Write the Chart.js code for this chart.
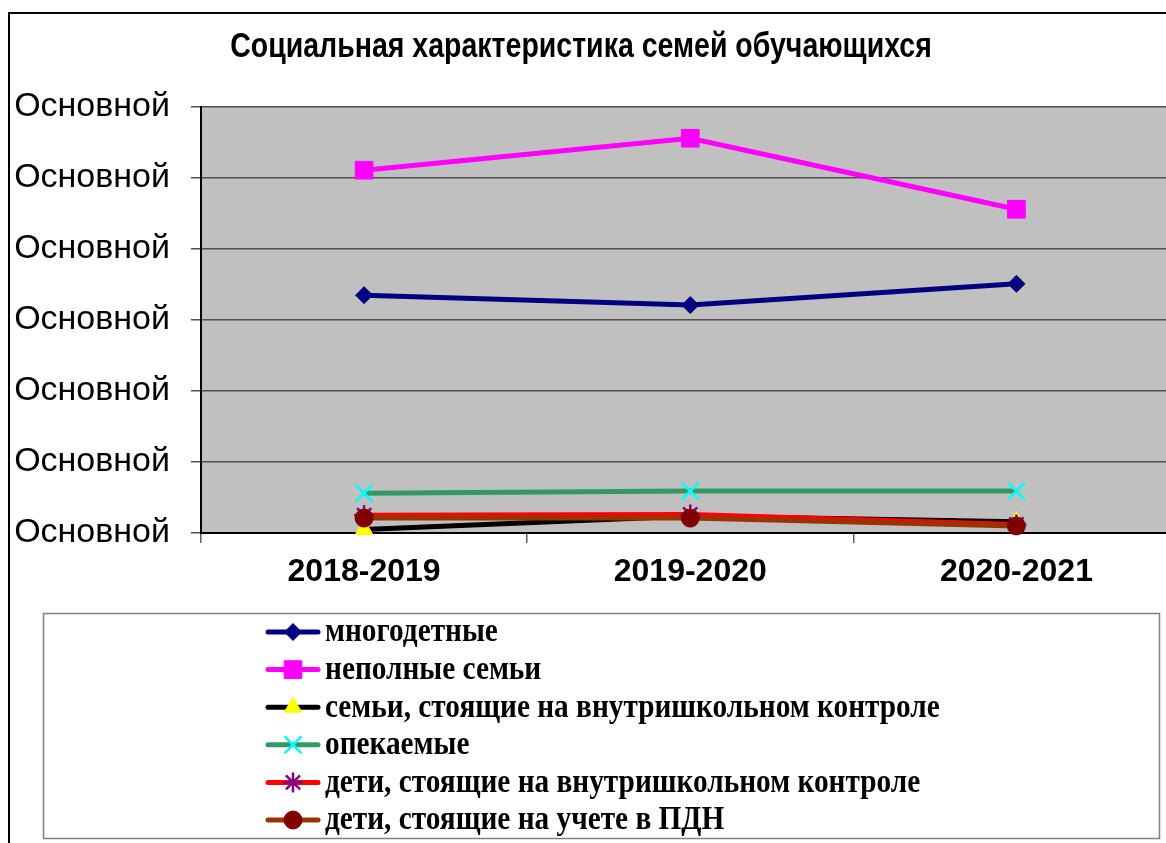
<!DOCTYPE html>
<html lang="ru">
<head>
<meta charset="utf-8">
<title>Социальная характеристика семей обучающихся</title>
<script src="https://cdn.jsdelivr.net/npm/chart.js@4.4.0/dist/chart.umd.min.js"></script>
<style>
    html, body { margin: 0; padding: 0; background: #fff; overflow: hidden; }
    #contenedor { position: relative; width: 1194px; height: 843px; }
    #grafico { display: block; width: 1194px !important; height: 843px !important; max-width: none !important; }
</style>
</head>
<body>
<div id="contenedor"><canvas id="grafico" width="1194" height="843"></canvas></div>
<script>
// Данные диаграммы
const titulo = 'Социальная характеристика семей обучающихся';
const anios = ['2018-2019', '2019-2020', '2020-2021'];
const etiquetaEje = 'Основной'; // так подписаны все деления оси Y
const ejeMin = 0;
const ejeMax = 60;
const ejePaso = 10;

const mnogodetnye = [33.5, 32.1, 35.1];
const nepolnye = [51.1, 55.6, 45.6];
const semiVshk = [0.5, 2.4, 1.6];
const opekaemye = [5.6, 5.9, 5.9];
const detiVshk = [2.5, 2.6, 1.2];
const detiPdn = [2.1, 2.1, 1.0];

const fuenteSans = "'Liberation Sans', Arial, sans-serif";
const fuenteSerif = "'Liberation Serif', 'Times New Roman', serif";

// Серия: линия + маркер
function serie(nombre, valores, colorLinea, estilo, radio, relleno, borde, anchoBorde, orden) {
    return {
        label: nombre,
        data: valores,
        borderColor: colorLinea,
        backgroundColor: colorLinea,
        borderWidth: 5,
        tension: 0,
        pointStyle: estilo,
        pointRadius: radio,
        pointBackgroundColor: relleno,
        pointBorderColor: borde,
        pointBorderWidth: anchoBorde,
        order: orden,
        clip: false
    };
}

// Фон области построения, рамка и заголовок
const fondo = {
    id: 'fondo',
    beforeDraw(chart) {
        const c = chart.ctx;
        const a = chart.chartArea;
        c.save();
        c.fillStyle = '#ffffff';
        c.fillRect(0, 0, chart.width, chart.height);
        c.fillStyle = '#c0c0c0';
        c.fillRect(a.left, a.top, a.right - a.left, a.bottom - a.top);
        // внешняя рамка (видны только левая и верхняя стороны)
        c.strokeStyle = '#000';
        c.lineWidth = 2;
        c.beginPath();
        c.moveTo(9, chart.height);
        c.lineTo(9, 13);
        c.lineTo(chart.width, 13);
        c.stroke();
        // заголовок
        c.translate(581, 48);
        c.scale(1, 1.2);
        c.fillStyle = '#000';
        c.font = 'bold 28.5px ' + fuenteSans;
        c.textAlign = 'center';
        c.textBaseline = 'middle';
        c.fillText(titulo, 0, 0);
        c.restore();
    }
};

// Легенда в рамке под графиком
const leyenda = {
    id: 'leyenda',
    afterDraw(chart) {
        const c = chart.ctx;
        c.save();
        c.strokeStyle = '#808080';
        c.lineWidth = 1.5;
        c.strokeRect(43.5, 613.5, 1116, 225);
        chart.data.datasets.forEach((ds, i) => {
            const y = 632 + i * 37.6;
            c.strokeStyle = ds.borderColor;
            c.lineWidth = 5;
            c.lineCap = 'round';
            c.beginPath();
            c.moveTo(268, y);
            c.lineTo(318, y);
            c.stroke();
            c.lineCap = 'butt';
            c.fillStyle = ds.pointBackgroundColor;
            c.strokeStyle = ds.pointBorderColor;
            c.lineWidth = ds.pointBorderWidth;
            Chart.helpers.drawPoint(c, {
                pointStyle: ds.pointStyle,
                radius: ds.pointRadius,
                borderWidth: ds.pointBorderWidth,
                rotation: 0
            }, 293, y);
            c.save();
            c.translate(325, y + 1);
            c.scale(1, 1.12);
            c.fillStyle = '#000';
            c.font = 'bold 29.3px ' + fuenteSerif;
            c.textAlign = 'left';
            c.textBaseline = 'middle';
            c.fillText(ds.label, 0, 0);
            c.restore();
        });
        c.restore();
    }
};

const ctx = document.getElementById('grafico').getContext('2d');
const grafico = new Chart(ctx, {
    type: 'line',
    data: {
        labels: anios,
        datasets: [
            serie('многодетные', mnogodetnye, '#000080', 'rectRot', 8.5, '#000080', '#000080', 1, 5),
            serie('неполные семьи', nepolnye, '#ff00ff', 'rect', 12.5, '#ff00ff', '#ff00ff', 1, 4),
            serie('семьи, стоящие на внутришкольном контроле', semiVshk, '#000000', 'triangle', 10, '#ffff00', '#ffff00', 1, 3),
            serie('опекаемые', opekaemye, '#339966', 'crossRot', 12, '#00ffff', '#00ffff', 2.5, 2),
            serie('дети, стоящие на внутришкольном контроле', detiVshk, '#ff0000', 'star', 10, '#800080', '#800080', 2.5, 1),
            serie('дети, стоящие на учете в ПДН', detiPdn, '#993300', 'circle', 9, '#800000', '#800000', 1, 0)
        ]
    },
    options: {
        responsive: false,
        animation: false,
        events: [],
        layout: { padding: { top: 107, left: 0, right: 2.5, bottom: 250 } },
        plugins: {
            legend: { display: false },
            title: { display: false },
            tooltip: { enabled: false }
        },
        scales: {
            x: {
                offset: true,
                grid: { offset: true, drawOnChartArea: false, tickLength: 10, color: '#606060', lineWidth: 1.5 },
                border: { color: '#000', width: 2 },
                ticks: {
                    color: '#000',
                    padding: 10,
                    maxRotation: 0,
                    font: { family: fuenteSans, size: 32, weight: 'bold' }
                },
                afterFit: s => {
                    s.height = 60;
                    s.paddingLeft = 0;
                    s.paddingRight = 0;
                }
            },
            y: {
                min: ejeMin,
                max: ejeMax,
                ticks: {
                    stepSize: ejePaso,
                    color: '#000',
                    padding: 21,
                    font: { family: fuenteSans, size: 34 },
                    callback: () => etiquetaEje
                },
                grid: { color: '#505050', lineWidth: 1.5, tickLength: 10 },
                border: { color: '#000', width: 2 },
                afterFit: s => { s.width = 201; }
            }
        }
    },
    plugins: [fondo, leyenda]
});
</script>
</body>
</html>
